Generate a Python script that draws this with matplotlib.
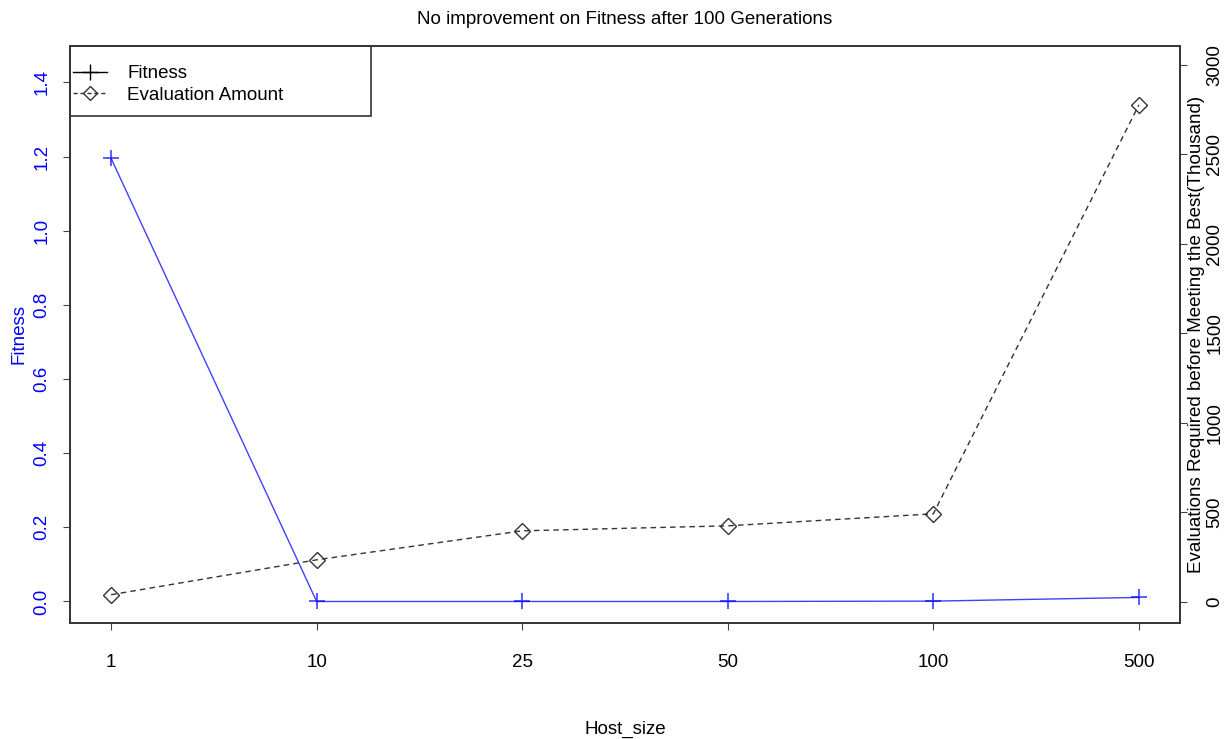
import matplotlib
matplotlib.use("Agg")
import matplotlib.pyplot as plt
from matplotlib.lines import Line2D
from matplotlib.patches import Rectangle

plt.rcParams["font.family"] = ["Liberation Sans", "DejaVu Sans"]

host_sizes = ["1", "10", "25", "50", "100", "500"]
fitness = [1.195, 0.0, 0.0, 0.0, 0.001, 0.011]
evaluations = [40, 235, 397, 425, 492, 2777]
fit_ticks = [0.0, 0.2, 0.4, 0.6, 0.8, 1.0, 1.2, 1.4]
eval_ticks = [0, 500, 1000, 1500, 2000, 2500, 3000]

x = list(range(1, len(host_sizes) + 1))
FS = 13.5

fig = plt.figure(figsize=(12.3, 7.39), dpi=100)
ax = fig.add_axes([70 / 1230, 116 / 739, 1110 / 1230, 577 / 739])
ax2 = ax.twinx()

ax.plot(x, fitness, color="#0000ff", lw=1, marker="+", ms=11, mew=1.2, alpha=0.75)
ax2.plot(x, evaluations, color="#333333", lw=1, ls=(0, (4, 3)), marker="D", ms=8,
         mfc="none", mec="#333333", mew=1)

ax.set_xlim(0.8, 6.2)
ax.set_ylim(-0.058, 1.498)
ax2.set_ylim(-118, 3106)
ax.set_xticks(x)
ax.set_xticklabels(host_sizes)
ax.set_yticks(fit_ticks)
ax.set_yticklabels([f"{t:.1f}" for t in fit_ticks], rotation=90, va="center", color="#0000ff")
ax2.set_yticks(eval_ticks)
ax2.set_yticklabels([str(t) for t in eval_ticks], rotation=90, va="center")

for a in (ax, ax2):
    a.tick_params(direction="out", length=5, width=0.8, labelsize=FS, color="#444444", pad=9)
    for s in a.spines.values():
        s.set_color("#333333")
        s.set_linewidth(1.2)
ax.tick_params(axis="x", pad=17)
ax2.tick_params(axis="y", pad=14)

ax.set_xlabel("Host_size", fontsize=FS, labelpad=36)
ax.set_ylabel("Fitness", fontsize=FS, color="#0000ff", va="center")
ax.yaxis.set_label_coords(-0.046, 0.5)
ax2.set_ylabel("Evaluations Required before Meeting the Best(Thousand)", fontsize=FS,
               va="center", rotation=90)
ax2.yaxis.set_label_coords(1.0145, 0.5)
ax.set_title("No improvement on Fitness after 100 Generations", fontsize=FS, pad=16)

# legend with an R-style wide box
ax.add_patch(Rectangle((0, 1 - 70 / 577), 301 / 1110, 70 / 577, transform=ax.transAxes,
                       fill=True, facecolor="white", edgecolor="#333333", lw=1.2,
                       zorder=9, clip_on=False))
handles = [
    Line2D([], [], color="black", lw=1, marker="+", ms=11, mew=1),
    Line2D([], [], color="#333333", lw=1, ls=(0, (3, 2)), marker="D", ms=7, mfc="none"),
]
leg = ax.legend(handles, ["Fitness", "Evaluation Amount"], loc="upper left",
                bbox_to_anchor=(3 / 1110, 1 - 19 / 577), borderaxespad=0, borderpad=0,
                fontsize=FS, frameon=False, handlelength=1.8, labelspacing=0.25,
                handletextpad=1.1)
leg.set_zorder(10)

fig.savefig("out.png", dpi=100)
